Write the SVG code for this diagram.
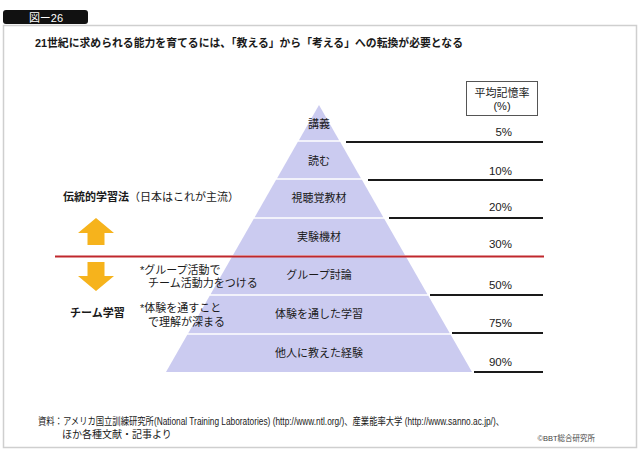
<svg xmlns="http://www.w3.org/2000/svg" width="640" height="464" viewBox="0 0 640 464">
<style>
text{font-family:"Liberation Sans","Noto Sans CJK JP",sans-serif;fill:#1a1a1a}
.t{font-size:11px;text-anchor:middle}
.pct{font-size:11.5px;text-anchor:end}
.band{fill:#cbcbf0}
.rl{stroke:#1a1a1a;stroke-width:1.8;fill:none}
.arr{fill:#f6b31c}
.b{font-weight:bold}
</style>
<rect x="0" y="0" width="640" height="464" fill="#ffffff"/>
<rect x="3.5" y="25.5" width="633" height="422" fill="#ffffff" stroke="#cfcfcf" stroke-width="1.5"/>
<g id="tab">
<rect x="3" y="10" width="85" height="14" rx="3" fill="#111"/>
<text x="46" y="22" style="font-size:11px;fill:#fff;text-anchor:middle">図ー26</text>
</g>
<text id="title" x="35" y="47" class="b" style="font-size:11.8px" textLength="428" lengthAdjust="spacingAndGlyphs">21世紀に求められる能力を育てるには、「教える」から「考える」への転換が必要となる</text>

<g id="header">
<rect x="466.5" y="81.5" width="71" height="34" fill="#fff" stroke="#555" stroke-width="1"/>
<text x="502" y="97" style="font-size:11px;text-anchor:middle">平均記憶率</text>
<text x="502" y="110" style="font-size:11px;text-anchor:middle">(%)</text>
</g>

<g id="pyramid">
<g id="band1"><polygon class="band" points="319,105 339.1,140.2 298.9,140.2"/><text class="t" x="319" y="128">講義</text></g>
<g id="band2"><polygon class="band" points="297.9,141.8 340.1,141.8 360.9,178.2 277.1,178.2"/><text class="t" x="319" y="165">読む</text></g>
<g id="band3"><polygon class="band" points="276.1,179.8 361.9,179.8 383.3,217.2 254.7,217.2"/><text class="t" x="319" y="202">視聴覚教材</text></g>
<g id="band4"><polygon class="band" points="253.8,218.8 384.2,218.8 405.1,255.2 232.9,255.2"/><text class="t" x="319" y="241">実験機材</text></g>
<g id="band5"><polygon class="band" points="232,256.8 406,256.8 427.4,294.2 210.6,294.2"/><text class="t" x="319" y="279">グループ討論</text></g>
<g id="band6"><polygon class="band" points="209.7,295.8 428.3,295.8 449.8,333.2 188.2,333.2"/><text class="t" x="319" y="318">体験を通した学習</text></g>
<g id="band7"><polygon class="band" points="187.3,334.8 450.7,334.8 472,372 166,372"/><text class="t" x="319" y="357">他人に教えた経験</text></g>
</g>

<g id="connectors">
<line class="rl" x1="346" y1="142" x2="543" y2="142"/>
<line class="rl" x1="368" y1="180" x2="543" y2="180"/>
<line class="rl" x1="389" y1="218" x2="543" y2="218"/>
<line x1="55" y1="256.5" x2="544" y2="256.5" stroke="#c0282d" stroke-width="2"/>
<line class="rl" x1="430" y1="295" x2="543" y2="295"/>
<line class="rl" x1="452" y1="333" x2="543" y2="333"/>
<line class="rl" x1="474" y1="372" x2="543" y2="372"/>
</g>

<g id="percent">
<text class="pct" x="512" y="136">5%</text>
<text class="pct" x="512" y="175">10%</text>
<text class="pct" x="512" y="211">20%</text>
<text class="pct" x="512" y="248">30%</text>
<text class="pct" x="512" y="289">50%</text>
<text class="pct" x="512" y="327">75%</text>
<text class="pct" x="512" y="366">90%</text>
</g>

<g id="traditional">
<text x="63" y="201" style="font-size:11px"><tspan class="b">伝統的学習法</tspan>（日本はこれが主流）</text>
<polygon id="arrow-up" class="arr" points="96,218 114,233 104.5,233 104.5,245 87.5,245 87.5,233 78,233"/>
</g>
<g id="team">
<polygon id="arrow-down" class="arr" points="87.5,262 104.5,262 104.5,276 114,276 96,291 78,276 87.5,276"/>
<text x="70" y="317" class="b" style="font-size:11px">チーム学習</text>
<text x="140" y="274" style="font-size:11px">*グループ活動で</text>
<text x="148" y="287" style="font-size:11px">チーム活動力をつける</text>
<text x="140" y="312" style="font-size:11px">*体験を通すこと</text>
<text x="148" y="326" style="font-size:11px">で理解が深まる</text>
</g>

<g id="footer">
<text x="38" y="425" style="font-size:10px" textLength="466" lengthAdjust="spacingAndGlyphs">資料：アメリカ国立訓練研究所(National Training Laboratories) (http://www.ntl.org/)、産業能率大学 (http://www.sanno.ac.jp/)、</text>
<text x="62" y="438" style="font-size:10px">ほか各種文献・記事より</text>
<text x="595" y="441" style="font-size:7.5px;text-anchor:end;fill:#444">©BBT総合研究所</text>
</g>
</svg>
